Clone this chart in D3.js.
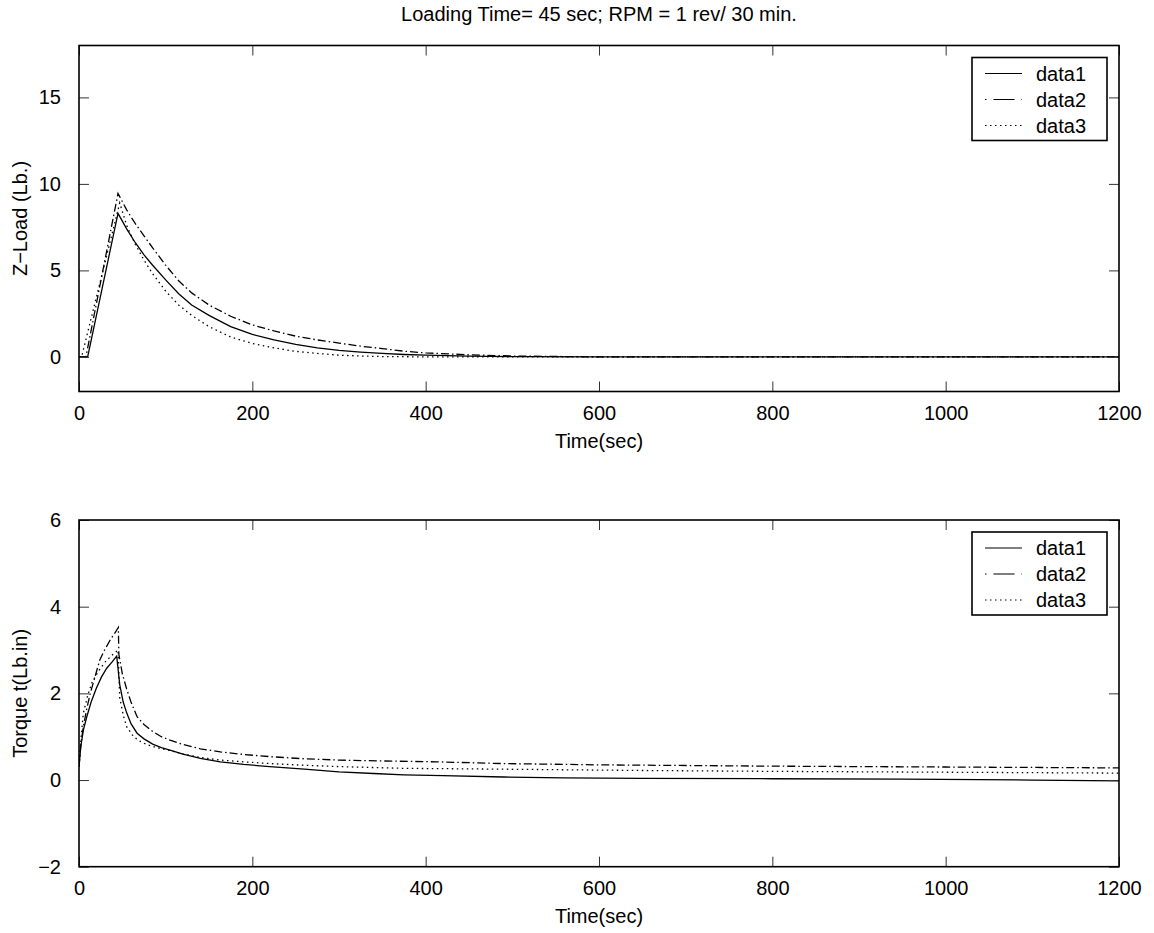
<!DOCTYPE html>
<html>
<head>
<meta charset="utf-8">
<script src="https://cdn.jsdelivr.net/npm/d3@7"></script>
<style>
  body { margin: 0; background: #fff; }
  text { font-family: "Liberation Sans", Arial, sans-serif; }
</style>
</head>
<body>
<div id="chart"></div>
<script>
// Title and labels
var chartTitle = "Loading Time= 45 sec; RPM = 1 rev/ 30 min.";
var seriesNames = ["data1", "data2", "data3"];
var xTicks = [0, 200, 400, 600, 800, 1000, 1200];
var zTicks = [0, 5, 10, 15];
var torqueTicks = [-2, 0, 2, 4, 6];

// Z-Load (top panel)
var zTime1 = [0, 10, 45, 55, 65, 75, 85, 100, 115, 130, 150, 175, 200, 225, 250, 275, 300, 325, 350, 375, 400, 450, 500, 600, 1200];
var zLoad1 = [0, 0, 8.3, 7.4, 6.6, 5.9, 5.3, 4.45, 3.65, 3.0, 2.4, 1.75, 1.3, 0.98, 0.72, 0.52, 0.38, 0.28, 0.2, 0.14, 0.1, 0.05, 0.02, 0, 0];
var zTime2 = [0, 8, 45, 55, 65, 75, 85, 100, 115, 130, 150, 175, 200, 225, 250, 275, 300, 325, 350, 375, 400, 450, 500, 600, 1200];
var zLoad2 = [0, 0, 9.45, 8.5, 7.7, 7.0, 6.3, 5.3, 4.4, 3.7, 3.0, 2.35, 1.85, 1.5, 1.2, 0.98, 0.8, 0.62, 0.48, 0.33, 0.23, 0.12, 0.05, 0, 0];
var zTime3 = [0, 3, 47, 55, 65, 75, 85, 100, 115, 130, 150, 175, 200, 225, 250, 275, 300, 325, 350, 400, 1200];
var zLoad3 = [0, 0, 8.9, 7.6, 6.5, 5.6, 4.8, 3.8, 3.0, 2.4, 1.75, 1.15, 0.78, 0.52, 0.32, 0.2, 0.1, 0.05, 0.02, 0, 0];

// Torque (bottom panel)
var tTime1 = [0, 2, 5, 9, 14, 20, 26, 32, 38, 43.5, 47, 51, 55, 60, 67, 75, 85, 95, 105, 120, 140, 163, 190, 220, 260, 300, 340, 375, 420, 490, 560, 650, 800, 950, 1100, 1200];
var torque1 = [0.3, 0.75, 1.15, 1.46, 1.8, 2.12, 2.38, 2.58, 2.72, 2.86, 2.2, 1.8, 1.55, 1.3, 1.08, 0.95, 0.83, 0.75, 0.69, 0.6, 0.5, 0.42, 0.36, 0.31, 0.25, 0.19, 0.15, 0.12, 0.1, 0.07, 0.05, 0.04, 0.03, 0.02, 0.0, -0.02];
var tTime2 = [0, 2, 5, 9, 13, 18, 24, 30, 36, 41, 45.4, 46, 50, 55, 60, 67, 75, 85, 95, 105, 120, 140, 163, 190, 220, 260, 300, 350, 412, 490, 600, 800, 1000, 1200];
var torque2 = [0.3, 0.8, 1.23, 1.65, 2.0, 2.35, 2.77, 3.02, 3.23, 3.38, 3.52, 2.9, 2.45, 2.1, 1.8, 1.46, 1.28, 1.12, 1.0, 0.92, 0.82, 0.72, 0.65, 0.59, 0.54, 0.49, 0.46, 0.44, 0.42, 0.38, 0.35, 0.32, 0.3, 0.28];
var tTime3 = [0, 2, 5, 10, 15, 22, 30, 38, 45, 47, 51, 55, 63, 70, 78, 86, 95, 105, 120, 140, 163, 190, 220, 260, 300, 374, 490, 650, 800, 1000, 1200];
var torque3 = [0.3, 0.9, 1.54, 1.95, 2.25, 2.5, 2.72, 2.88, 3.0, 1.9, 1.5, 1.23, 1.0, 0.9, 0.82, 0.77, 0.72, 0.68, 0.6, 0.52, 0.46, 0.42, 0.38, 0.34, 0.31, 0.27, 0.25, 0.22, 0.2, 0.18, 0.16];

var svgWidth = 1154;
var svgHeight = 933;

// line styles: solid, dash-dot, dotted
var dashes = [null, "8,3,1.5,3", "1.5,3.5"];

var svg = d3.select("#chart")
  .append("svg")
  .attr("width", svgWidth)
  .attr("height", svgHeight);

svg.append("rect")
  .attr("width", svgWidth)
  .attr("height", svgHeight)
  .attr("fill", "#fff");

svg.append("text")
  .attr("x", 599)
  .attr("y", 21)
  .attr("text-anchor", "middle")
  .attr("font-size", "20px")
  .text(chartTitle);

function zip(ts, vs) {
  return ts.map(function (t, i) { return [t, vs[i]]; });
}

function drawPanel(opts) {
  var left = 79, right = 1119;
  var x = d3.scaleLinear().domain([0, 1200]).range([left, right]);
  var y = d3.scaleLinear().domain(opts.yDomain).range([opts.bottom, opts.top]);

  var g = svg.append("g");

  // clip so lines stay inside the box
  var clipId = "clip" + opts.id;
  svg.append("clipPath").attr("id", clipId)
    .append("rect")
    .attr("x", left).attr("y", opts.top)
    .attr("width", right - left).attr("height", opts.bottom - opts.top);

  var line = d3.line()
    .x(d => x(d[0]))
    .y(d => y(d[1]));

  var lines = g.append("g").attr("clip-path", "url(#" + clipId + ")");
  opts.series.forEach(function (s, i) {
    lines.append("path")
      .datum(s)
      .attr("fill", "none")
      .attr("stroke", "#000")
      .attr("stroke-width", 1.3)
      .attr("stroke-dasharray", dashes[i])
      .attr("d", line);
  });

  // axes: ticks point inward on all four sides
  var bottomAxis = d3.axisBottom(x).tickValues(xTicks).tickSizeInner(-10).tickSizeOuter(0).tickPadding(14).tickFormat(d3.format("d"));
  var topAxis = d3.axisTop(x).tickValues(xTicks).tickSizeInner(-10).tickSizeOuter(0).tickFormat("");
  var leftAxis = d3.axisLeft(y).tickValues(opts.yTicks).tickSizeInner(-10).tickSizeOuter(0).tickPadding(18);
  var rightAxis = d3.axisRight(y).tickValues(opts.yTicks).tickSizeInner(-10).tickSizeOuter(0).tickFormat("");

  var axes = [
    g.append("g").attr("transform", `translate(0, ${opts.bottom})`).call(bottomAxis),
    g.append("g").attr("transform", `translate(0, ${opts.top})`).call(topAxis),
    g.append("g").attr("transform", `translate(${left}, 0)`).call(leftAxis),
    g.append("g").attr("transform", `translate(${right}, 0)`).call(rightAxis)
  ];
  axes.forEach(function (a) {
    a.select(".domain").remove();
    a.selectAll(".tick line").attr("stroke", "#333").attr("stroke-width", 1);
    a.selectAll(".tick text")
      .attr("font-size", "20px")
      .attr("font-family", "Liberation Sans, Arial, sans-serif")
      .attr("fill", "#000");
  });

  // box
  g.append("rect")
    .attr("x", left).attr("y", opts.top)
    .attr("width", right - left).attr("height", opts.bottom - opts.top)
    .attr("fill", "none")
    .attr("stroke", "#000")
    .attr("stroke-width", 1.6);

  // axis labels
  g.append("text")
    .attr("x", (left + right) / 2)
    .attr("y", opts.bottom + 56)
    .attr("text-anchor", "middle")
    .attr("font-size", "20px")
    .text("Time(sec)");

  g.append("text")
    .attr("transform", `translate(27, ${(opts.top + opts.bottom) / 2}) rotate(-90)`)
    .attr("text-anchor", "middle")
    .attr("font-size", "20px")
    .text(opts.yLabel);

  // legend
  var lx = 972, ly = opts.top + 12;
  var legend = g.append("g");
  legend.append("rect")
    .attr("x", lx).attr("y", ly)
    .attr("width", 135).attr("height", 83)
    .attr("fill", "#fff")
    .attr("stroke", "#000")
    .attr("stroke-width", 1.6);
  seriesNames.forEach(function (name, i) {
    var yy = ly + 16 + i * 26;
    legend.append("line")
      .attr("x1", lx + 13).attr("x2", lx + 50)
      .attr("y1", yy).attr("y2", yy)
      .attr("stroke", "#000")
      .attr("stroke-width", 1.2)
      .attr("stroke-dasharray", i === 1 ? "1.5,7,21,7,1.5" : dashes[i]);
    legend.append("text")
      .attr("x", lx + 64)
      .attr("y", yy + 7)
      .attr("font-size", "20px")
      .text(name);
  });
}

drawPanel({
  id: 1,
  top: 45.5,
  bottom: 391.5,
  yDomain: [-2, 18],
  yTicks: zTicks,
  yLabel: "Z\u2212Load (Lb.)",
  series: [zip(zTime1, zLoad1), zip(zTime2, zLoad2), zip(zTime3, zLoad3)]
});

drawPanel({
  id: 2,
  top: 520,
  bottom: 866.7,
  yDomain: [-2, 6],
  yTicks: torqueTicks,
  yLabel: "Torque t(Lb.in)",
  series: [zip(tTime1, torque1), zip(tTime2, torque2), zip(tTime3, torque3)]
});
</script>
</body>
</html>
